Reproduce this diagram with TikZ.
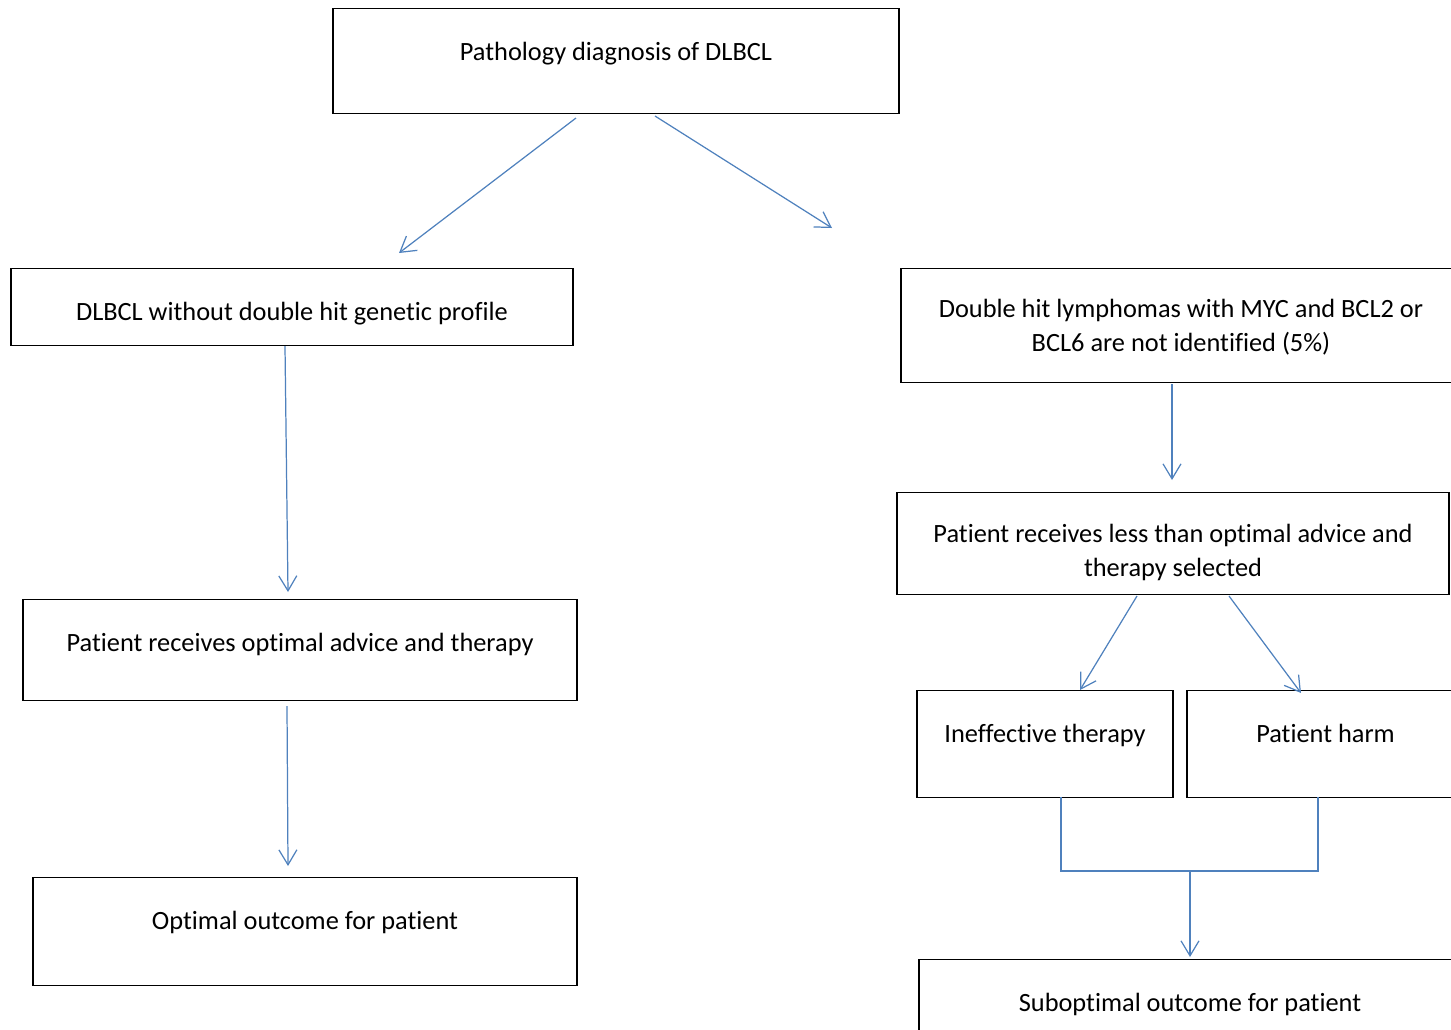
\documentclass[tikz,border=0pt]{standalone}
\usepackage{fontspec}
\setmainfont{Carlito}[Ligatures=NoCommon]
\usetikzlibrary{arrows.meta}
\definecolor{linkblue}{HTML}{4F81BD}
\begin{document}
\begin{tikzpicture}[x=0.02cm, y=-0.02cm, >={Straight Barb[length=3mm,width=3.6mm]}, every node/.append style={align=center, draw=black, line width=0.8pt, anchor=north, inner ysep=0pt, text height=1.04cm, font=\fontsize{15}{19.4}\selectfont}, link/.style={->, draw=linkblue, line width=0.7pt}]
  \useasboundingbox (0,0) rectangle (1451,1029);
  \clip (0,0) rectangle (1451,1029);
  \node [minimum width=11.32cm, text depth=1.06cm] at (616,8) (diag) {Pathology diagnosis of DLBCL};
  \node [minimum width=11.24cm, text depth=0.5cm] at (292,268) (nodh) {DLBCL without double hit genetic profile};
  \node [minimum width=11.2cm, text height=1.66cm, text depth=0.62cm] at (1181,268) (dh) {Double hit lymphomas with MYC and BCL2 or\\BCL6 are not identified (5\%)};
  \node [minimum width=11.08cm, text depth=0.98cm] at (300,599) (opt) {Patient receives optimal advice and therapy};
  \node [minimum width=11.04cm, text height=1.68cm, text depth=0.36cm] at (1173,492) (less) {Patient receives less than optimal advice and\\therapy selected};
  \node [minimum width=5.12cm, text depth=1.1cm] at (1045,690) (ineff) {Ineffective therapy};
  \node [minimum width=5.54cm, text depth=1.1cm] at (1325.5,690) (harm) {Patient harm};
  \node [minimum width=10.88cm, text depth=1.12cm] at (305,877) (good) {Optimal outcome for patient};
  \node [minimum width=10.84cm, text depth=1.36cm] at (1190,959) (subopt) {Suboptimal outcome for patient};
  \coordinate (diagL) at (576,118);
  \coordinate (diagR) at (655,116);
  \coordinate (nodhT) at (399,253);
  \coordinate (dhT) at (832,228);
  \coordinate (nodhB) at (285,346);
  \coordinate (optT) at (288,592);
  \coordinate (optB) at (287,706);
  \coordinate (goodT) at (288,866);
  \coordinate (dhB) at (1172,384);
  \coordinate (lessT) at (1172,480);
  \coordinate (lessL) at (1137,596);
  \coordinate (lessR) at (1229,596);
  \coordinate (ineffT) at (1080,690);
  \coordinate (harmT) at (1301,693);
  \coordinate (ineffB) at (1061,797);
  \coordinate (harmB) at (1318,797);
  \coordinate (join) at (1190,871);
  \coordinate (suboptT) at (1190,957);
  \draw [link] (diagL) -- (nodhT);
  \draw [link] (diagR) -- (dhT);
  \draw [link] (nodhB) -- (optT);
  \draw [link] (optB) -- (goodT);
  \draw [link] (dhB) -- (lessT);
  \draw [link] (lessL) -- (ineffT);
  \draw [link] (lessR) -- (harmT);
  \draw [draw=linkblue, line width=0.7pt] (ineffB) |- (join) -| (harmB);
  \draw [link] (join) -- (suboptT);
\end{tikzpicture}
\end{document}
